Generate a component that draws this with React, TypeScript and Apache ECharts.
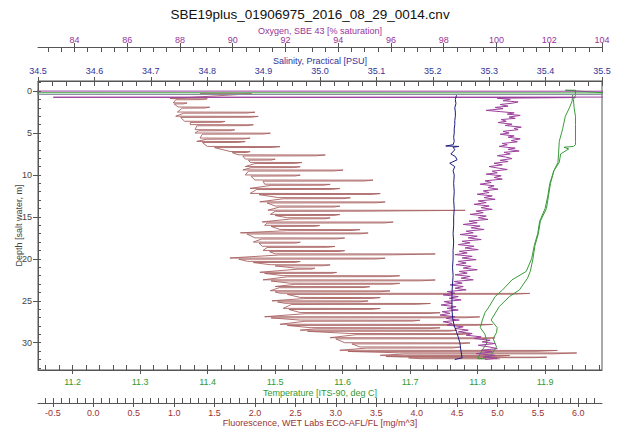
import React, { useEffect, useRef } from 'react';
import * as echarts from 'echarts';

const TITLE = 'SBE19plus_01906975_2016_08_29_0014.cnv';
const FONT = '"Liberation Sans", Arial, sans-serif';

const OXY_TICKS = [84, 86, 88, 90, 92, 94, 96, 98, 100, 102, 104];
const SAL_TICKS = [34.5, 34.6, 34.7, 34.8, 34.9, 35.0, 35.1, 35.2, 35.3, 35.4, 35.5];
const TEMP_TICKS = [11.2, 11.3, 11.4, 11.5, 11.6, 11.7, 11.8, 11.9];
const FLUOR_TICKS = [-0.5, 0.0, 0.5, 1.0, 1.5, 2.0, 2.5, 3.0, 3.5, 4.0, 4.5, 5.0, 5.5, 6.0];
const DEPTH_TICKS = [0, 5, 10, 15, 20, 25, 30];

// [oxygen %sat, depth m]
const oxygen: [number, number][] = [
  [82.5, 0.0], [104.5, 0.02], [104.5, 0.72], [83.2, 0.74], [103.0, 0.77],
  [100.03, 0.85], [100.52, 1.0], [100.25, 1.15], [100.82, 1.3], [100.59, 1.45], [100.14, 1.6],
  [100.44, 1.8], [99.95, 1.95], [100.25, 2.1], [99.61, 2.3], [100.14, 2.45], [100.67, 2.6],
  [100.41, 2.75], [100.9, 2.9], [100.48, 3.1], [100.71, 3.25], [100.18, 3.4], [100.37, 3.6],
  [100.06, 3.75], [100.59, 3.95], [100.33, 4.1], [100.94, 4.3], [100.67, 4.45], [100.82, 4.6],
  [100.25, 4.8], [100.48, 5.0], [100.14, 5.15], [100.67, 5.35], [100.44, 5.5], [100.9, 5.7],
  [100.56, 5.9], [100.79, 6.05], [100.22, 6.25], [100.41, 6.4], [100.1, 6.6], [100.71, 6.8],
  [100.44, 6.95], [100.86, 7.15], [100.29, 7.3], [100.52, 7.5], [100.03, 7.7], [100.33, 7.85],
  [100.59, 8.05], [100.14, 8.25], [100.44, 8.4], [99.91, 8.6], [100.22, 8.8], [99.72, 9.0],
  [100.1, 9.2], [100.41, 9.35], [99.84, 9.55], [100.03, 9.75], [99.61, 9.9], [100.18, 10.1],
  [99.91, 10.3], [100.22, 10.5], [99.57, 10.7], [99.8, 10.9], [99.38, 11.1], [99.91, 11.3],
  [99.68, 11.5], [100.06, 11.7], [99.5, 11.9], [99.72, 12.1], [99.27, 12.3], [99.84, 12.5],
  [99.53, 12.7], [99.95, 12.9], [99.31, 13.1], [99.61, 13.3], [99.15, 13.5], [99.72, 13.7],
  [99.42, 13.9], [99.84, 14.1], [99.23, 14.3], [99.5, 14.5], [99.0, 14.7], [99.61, 14.9],
  [99.31, 15.1], [99.68, 15.3], [98.96, 15.5], [99.27, 15.7], [98.74, 15.9], [99.38, 16.1],
  [99.04, 16.3], [99.53, 16.5], [98.85, 16.7], [99.12, 16.9], [98.62, 17.1], [99.27, 17.3],
  [98.93, 17.5], [99.42, 17.7], [98.7, 17.9], [99.0, 18.1], [98.55, 18.3], [99.15, 18.5],
  [98.81, 18.7], [99.31, 18.9], [98.59, 19.1], [98.89, 19.3], [98.43, 19.5], [99.08, 19.7],
  [98.7, 19.9], [99.23, 20.1], [98.55, 20.3], [98.85, 20.5], [98.47, 20.7], [99.04, 20.9],
  [98.74, 21.1], [99.27, 21.3], [98.59, 21.5], [98.89, 21.7], [98.43, 21.9], [99.0, 22.1],
  [98.66, 22.3], [99.12, 22.5], [98.4, 22.7], [98.7, 22.9], [98.24, 23.1], [98.74, 23.3],
  [98.43, 23.5], [98.85, 23.7], [98.13, 23.9], [98.43, 24.1], [97.98, 24.3], [98.55, 24.5],
  [98.21, 24.7], [98.66, 24.9], [98.02, 25.1], [98.32, 25.3], [97.9, 25.5], [98.47, 25.7],
  [98.13, 25.9], [98.55, 26.1], [97.94, 26.3], [98.24, 26.5], [97.86, 26.7], [98.43, 26.9],
  [98.09, 27.1], [98.59, 27.3], [97.98, 27.5], [98.32, 27.7], [98.13, 27.9], [98.74, 28.1],
  [98.43, 28.3], [98.93, 28.5], [98.55, 28.7], [99.08, 28.9], [98.85, 29.1], [99.42, 29.3],
  [99.15, 29.5], [99.76, 29.7], [99.46, 29.9], [99.95, 30.1], [99.31, 30.3], [99.72, 30.5],
  [100.03, 30.7], [99.42, 30.9], [99.84, 31.1], [99.23, 31.3], [99.95, 31.5], [99.5, 31.7],
  [100.03, 31.85], [99.57, 32.0],
];

// surface-soak salinity spike [salinity PSU, depth m]
const salinitySurface: [number, number][] = [[34.4, 0.4], [35.6, 0.42]];

// [salinity PSU, depth m]
const salinity: [number, number][] = [
  [35.242, 0.5], [35.24, 1.0], [35.241, 1.5], [35.239, 2.0],
  [35.24, 2.5], [35.24, 3.0], [35.239, 3.5], [35.239, 4.0], [35.238, 4.5], [35.238, 5.0],
  [35.237, 5.5], [35.238, 6.0], [35.236, 6.4], [35.223, 6.55], [35.246, 6.6], [35.236, 6.7],
  [35.239, 7.0], [35.232, 7.5], [35.24, 7.8], [35.243, 8.2], [35.23, 8.6], [35.239, 9.0],
  [35.236, 9.5], [35.238, 10], [35.237, 11], [35.238, 12], [35.237, 13], [35.238, 14],
  [35.237, 15], [35.237, 16], [35.236, 17], [35.237, 18], [35.236, 19], [35.236, 20],
  [35.235, 21], [35.236, 22], [35.235, 23], [35.234, 24], [35.234, 25], [35.234, 26],
  [35.235, 27], [35.238, 28], [35.242, 28.7], [35.245, 29.3], [35.248, 30], [35.25, 31],
  [35.252, 31.8], [35.239, 32.0],
];

// [temperature degC, depth m]
const temperature: [number, number][] = [
  [11.1, 0.2], [11.99, 0.22], [11.93, -0.1], [11.945, -0.1], [11.945, 0.5], [11.942, 1.0],
  [11.943, 2.0], [11.945, 3.0], [11.945, 4.0], [11.945, 5.0], [11.945, 6.0], [11.945, 6.4],
  [11.942, 6.6], [11.928, 6.7], [11.935, 6.9], [11.923, 7.5], [11.921, 8.5], [11.913, 9.5],
  [11.908, 11.0], [11.905, 12.5], [11.902, 14.0], [11.893, 15.5], [11.89, 17.0], [11.885, 18.4],
  [11.882, 20.0], [11.878, 21.5], [11.874, 22.3], [11.862, 23.7], [11.847, 24.5], [11.832, 25.7],
  [11.82, 27.3], [11.829, 28.2], [11.828, 28.8], [11.823, 29.5], [11.828, 30.5], [11.82, 31.5],
  [11.81, 31.9], [11.8, 31.9], [11.806, 31.0], [11.814, 30.0], [11.811, 29.0], [11.804, 28.2],
  [11.807, 27.3], [11.811, 26.4], [11.817, 25.7], [11.826, 24.5], [11.837, 23.7], [11.851, 22.5],
  [11.872, 21.5], [11.88, 20.0], [11.884, 18.4], [11.889, 17.0], [11.892, 15.5], [11.9, 14.0],
  [11.904, 12.5], [11.907, 11.0], [11.913, 9.5], [11.919, 8.5], [11.92, 7.4], [11.921, 6.0],
  [11.926, 4.5], [11.93, 3.0], [11.936, 2.0], [11.94, 1.2], [11.941, 0.4],
];

// [fluorescence mg/m^3, depth m]
const fluorescence: [number, number][] = [
  [1.32, 0.3], [1.96, 0.32],
  [0.95, 0.9], [1.41, 0.92], [1.35, 1.02], [1.02, 1.04],
  [0.99, 1.4], [1.16, 1.42], [1.12, 1.52], [1.0, 1.54],
  [1.05, 1.9], [1.44, 1.92], [1.38, 2.02], [1.1, 2.04],
  [1.04, 2.5], [2.0, 2.52], [1.9, 2.62], [1.12, 2.64],
  [1.02, 3.0], [2.04, 3.02], [1.95, 3.12], [1.08, 3.14],
  [1.13, 3.6], [1.63, 3.62], [1.58, 3.72], [1.2, 3.74],
  [1.2, 4.0], [1.98, 4.02], [1.9, 4.12], [1.28, 4.14],
  [1.26, 4.6], [1.75, 4.62], [1.7, 4.72], [1.3, 4.74],
  [1.26, 5.0], [2.19, 5.02], [2.1, 5.12], [1.35, 5.14],
  [1.32, 5.6], [1.94, 5.62], [1.85, 5.72], [1.4, 5.74],
  [1.28, 6.0], [1.88, 6.02], [1.8, 6.12], [1.35, 6.14],
  [1.41, 6.6], [2.31, 6.62], [2.22, 6.72], [1.5, 6.74],
  [1.69, 7.2], [1.94, 7.22], [1.9, 7.32], [1.72, 7.34],
  [1.79, 7.6], [2.87, 7.62], [2.75, 7.72], [1.85, 7.74],
  [1.88, 8.1], [2.25, 8.12], [2.2, 8.22], [1.92, 8.24],
  [1.94, 8.5], [2.58, 8.52], [2.5, 8.62], [2.0, 8.64],
  [1.88, 9.0], [2.56, 9.02], [2.48, 9.12], [1.95, 9.14],
  [1.85, 9.4], [3.09, 9.42], [2.98, 9.52], [1.92, 9.54],
  [1.88, 10.0], [2.56, 10.02], [2.5, 10.12], [1.95, 10.14],
  [2.0, 10.6], [3.46, 10.62], [3.35, 10.72], [2.1, 10.74],
  [2.12, 11.1], [2.93, 11.12], [2.85, 11.22], [2.2, 11.24],
  [1.94, 11.6], [3.05, 11.62], [2.95, 11.72], [2.02, 11.74],
  [1.94, 12.2], [3.55, 12.22], [3.45, 12.32], [2.05, 12.34],
  [2.29, 12.7], [3.18, 12.72], [3.1, 12.82], [2.35, 12.84],
  [2.06, 13.2], [3.61, 13.22], [3.5, 13.32], [2.15, 13.34],
  [2.25, 13.7], [3.05, 13.72], [2.98, 13.82], [2.3, 13.84],
  [2.16, 14.2], [4.6, 14.22], [3.3, 14.32], [2.25, 14.34],
  [2.19, 14.7], [3.05, 14.72], [2.98, 14.82], [2.25, 14.84],
  [2.4, 15.1], [2.93, 15.12], [2.88, 15.22], [2.45, 15.24],
  [2.09, 15.6], [3.71, 15.62], [3.6, 15.72], [2.15, 15.74],
  [2.12, 16.0], [2.8, 16.02], [2.75, 16.12], [2.2, 16.14],
  [2.31, 16.5], [3.3, 16.52], [3.2, 16.62], [2.4, 16.64],
  [1.82, 16.9], [3.4, 16.92], [3.3, 17.02], [1.9, 17.04],
  [2.0, 17.5], [3.11, 17.52], [3.02, 17.62], [2.08, 17.64],
  [1.98, 18.0], [2.56, 18.02], [2.5, 18.12], [2.05, 18.14],
  [2.09, 18.5], [2.99, 18.52], [2.9, 18.62], [2.15, 18.64],
  [2.1, 19.0], [3.11, 19.02], [3.05, 19.12], [2.18, 19.14],
  [2.25, 19.4], [4.23, 19.42], [3.7, 19.52], [2.3, 19.54],
  [1.69, 19.9], [3.61, 19.92], [3.5, 20.02], [1.8, 20.04],
  [1.91, 20.3], [2.56, 20.32], [2.5, 20.42], [1.98, 20.44],
  [2.19, 20.7], [2.93, 20.72], [2.85, 20.82], [2.25, 20.84],
  [2.5, 21.1], [2.74, 21.12], [2.7, 21.22], [2.52, 21.24],
  [2.06, 21.6], [3.01, 21.62], [2.95, 21.72], [2.12, 21.74],
  [2.35, 22.0], [3.79, 22.02], [3.65, 22.12], [2.4, 22.14],
  [2.1, 22.5], [4.23, 22.52], [4.05, 22.62], [2.2, 22.64],
  [2.43, 22.9], [3.79, 22.92], [3.7, 23.02], [2.5, 23.04],
  [2.25, 23.3], [3.42, 23.32], [3.35, 23.42], [2.3, 23.44],
  [2.19, 23.8], [3.67, 23.82], [3.55, 23.92], [2.25, 23.94],
  [2.31, 24.1], [5.4, 24.12], [5.2, 24.22], [2.4, 24.24],
  [2.56, 24.6], [3.55, 24.62], [3.45, 24.72], [2.6, 24.74],
  [2.21, 25.0], [3.4, 25.02], [3.3, 25.12], [2.28, 25.14],
  [2.37, 25.3], [4.17, 25.32], [4.0, 25.42], [2.45, 25.44],
  [2.35, 25.9], [3.55, 25.92], [3.45, 26.02], [2.42, 26.04],
  [2.56, 26.4], [4.29, 26.42], [4.15, 26.52], [2.62, 26.54],
  [2.12, 26.9], [4.78, 26.92], [4.6, 27.02], [2.2, 27.04],
  [2.56, 27.3], [4.04, 27.32], [3.95, 27.42], [2.62, 27.44],
  [2.31, 27.8], [4.94, 27.82], [4.75, 27.92], [2.4, 27.94],
  [2.68, 28.2], [4.29, 28.22], [4.15, 28.32], [2.75, 28.34],
  [2.56, 28.5], [4.5, 28.52], [4.4, 28.62], [2.65, 28.64],
  [3.18, 28.9], [4.66, 28.92], [4.55, 29.02], [3.25, 29.04],
  [2.93, 29.4], [4.97, 29.42], [4.8, 29.52], [3.0, 29.54],
  [3.11, 30.0], [4.66, 30.02], [4.55, 30.12], [3.2, 30.14],
  [3.3, 30.5], [4.54, 30.52], [4.45, 30.62], [3.38, 30.64],
  [3.05, 30.9], [5.74, 30.92], [5.5, 31.02], [3.15, 31.04],
  [3.79, 31.2], [5.98, 31.22], [5.7, 31.32], [3.85, 31.34],
  [3.55, 31.5], [5.15, 31.52], [5.0, 31.62], [3.62, 31.64],
  [3.82, 31.7], [5.61, 31.72], [5.45, 31.78], [3.9, 31.8],
  [4.04, 31.9], [5.03, 31.92],
];

const OXY_RANGE = [82.62, 104.0];
const SAL_RANGE = [34.5, 35.5];
const TEMP_RANGE = [11.1487, 11.9843];
const FLUOR_RANGE = [-0.684, 6.293];
const DEPTH_RANGE = [-1.2, 33.25];

const C_OXY = '#993399';
const C_SAL = '#333399';
const C_TEMP = '#339933';
const C_FLUOR = '#993333';
const C_AXIS = '#555555';

function minorValues(min: number, max: number, step: number, majors: number[]) {
  const out: number[] = [];
  const start = Math.ceil(min / step - 1e-9);
  for (let i = start; i * step <= max + 1e-9; i++) {
    const v = Math.round(i * step * 10000) / 10000;
    if (!majors.some((m) => Math.abs(m - v) < 1e-6)) out.push(v);
  }
  return out;
}

function xAxes(o: {
  name: string; range: number[]; majors: number[]; step: number; position: 'top' | 'bottom';
  offset: number; color: string; nameGap: number; margin: number; decimals: number;
}) {
  const minors = minorValues(o.range[0], o.range[1], o.step, o.majors);
  const main = {
    type: 'value', position: o.position, offset: o.offset, min: o.range[0], max: o.range[1],
    name: o.name, nameLocation: 'middle', nameGap: o.nameGap, nameMoveOverlap: false,
    nameTextStyle: { color: o.color, fontSize: 9, fontFamily: FONT },
    axisLine: { show: true, onZero: false, lineStyle: { color: C_AXIS, width: 1 } },
    axisTick: { show: true, inside: true, length: 5, customValues: [...o.majors, ...minors], lineStyle: { color: C_AXIS } },
    axisLabel: {
      show: true, customValues: o.majors, color: o.color, fontSize: 9, fontFamily: FONT, margin: o.margin,
      formatter: (v: number) => v.toFixed(o.decimals),
    },
    splitLine: { show: false },
  };
  const over = {
    type: 'value', position: o.position, offset: o.offset, min: o.range[0], max: o.range[1],
    axisLine: { show: false, onZero: false },
    axisTick: { show: true, inside: false, length: 4, customValues: o.majors, lineStyle: { color: C_AXIS } },
    axisLabel: { show: false },
    splitLine: { show: false },
  };
  return [main, over];
}

export default function App() {
  const ref = useRef<HTMLDivElement>(null);
  useEffect(() => {
    if (!ref.current) return;
    const chart = echarts.init(ref.current, undefined, { renderer: 'svg' });
    const depthMinors = minorValues(DEPTH_RANGE[0], DEPTH_RANGE[1], 1, DEPTH_TICKS);
    const line = (name: string, xi: number, data: [number, number][], color: string, opacity = 1) => ({
      type: 'line', name, xAxisIndex: xi, yAxisIndex: 0, data,
      showSymbol: false, symbol: 'none', lineStyle: { color, width: 1, opacity }, clip: true,
    });
    const option: any = {
      animation: false,
      backgroundColor: '#ffffff',
      title: {
        text: TITLE, left: 'center', top: 2,
        textStyle: { fontSize: 13.5, fontWeight: 'normal', color: '#111', fontFamily: FONT },
      },
      grid: { left: 38, right: 18, top: 81, bottom: 69, show: true, borderColor: C_AXIS, borderWidth: 1, backgroundColor: 'transparent' },
      xAxis: [
        ...xAxes({ name: 'Oxygen, SBE 43 [% saturation]', range: OXY_RANGE, majors: OXY_TICKS, step: 0.5, position: 'top', offset: 34, color: C_OXY, nameGap: 12, margin: 3, decimals: 0 }),
        ...xAxes({ name: 'Salinity, Practical [PSU]', range: SAL_RANGE, majors: SAL_TICKS, step: 0.025, position: 'top', offset: 0, color: C_SAL, nameGap: 16, margin: 6, decimals: 1 }),
        ...xAxes({ name: 'Temperature [ITS-90, deg C]', range: TEMP_RANGE, majors: TEMP_TICKS, step: 0.02, position: 'bottom', offset: 0, color: C_TEMP, nameGap: 18, margin: 7, decimals: 1 }),
        ...xAxes({ name: 'Fluorescence, WET Labs ECO-AFL/FL [mg/m^3]', range: FLUOR_RANGE, majors: FLUOR_TICKS, step: 0.1, position: 'bottom', offset: 33, color: C_FLUOR, nameGap: 15, margin: 5, decimals: 1 }),
      ],
      yAxis: [
        {
          type: 'value', inverse: true, min: DEPTH_RANGE[0], max: DEPTH_RANGE[1], position: 'left',
          name: 'Depth [salt water, m]', nameLocation: 'middle', nameGap: 15, nameRotate: 90, nameMoveOverlap: false,
          nameTextStyle: { color: '#444', fontSize: 9, fontFamily: FONT },
          axisLine: { show: true, onZero: false, lineStyle: { color: C_AXIS } },
          axisTick: { show: true, inside: false, length: 5, customValues: DEPTH_TICKS, lineStyle: { color: C_AXIS } },
          axisLabel: { show: true, customValues: DEPTH_TICKS, color: '#444', fontSize: 9, fontFamily: FONT, margin: 6 },
          splitLine: { show: false },
        },
        {
          type: 'value', inverse: true, min: DEPTH_RANGE[0], max: DEPTH_RANGE[1], position: 'left',
          axisLine: { show: false, onZero: false },
          axisTick: { show: true, inside: true, length: 3, customValues: [...DEPTH_TICKS, ...depthMinors], lineStyle: { color: C_AXIS } },
          axisLabel: { show: false },
          splitLine: { show: false },
        },
      ],
      series: [
        line('Fluorescence', 6, fluorescence, '#a86262', 0.9),
        line('Temperature', 4, temperature, '#3a9a3a'),
        line('Salinity surface', 2, salinitySurface, '#8a8aa6'),
        line('Oxygen', 0, oxygen, '#9b3f9b'),
        line('Salinity', 2, salinity, '#1c1c80'),
      ],
    };
    chart.setOption(option);
    return () => chart.dispose();
  }, []);
  return (
    <div
      ref={ref}
      style={{ position: 'fixed', left: 0, top: 0, width: 620, height: 439, background: '#fff' }}
    />
  );
}
